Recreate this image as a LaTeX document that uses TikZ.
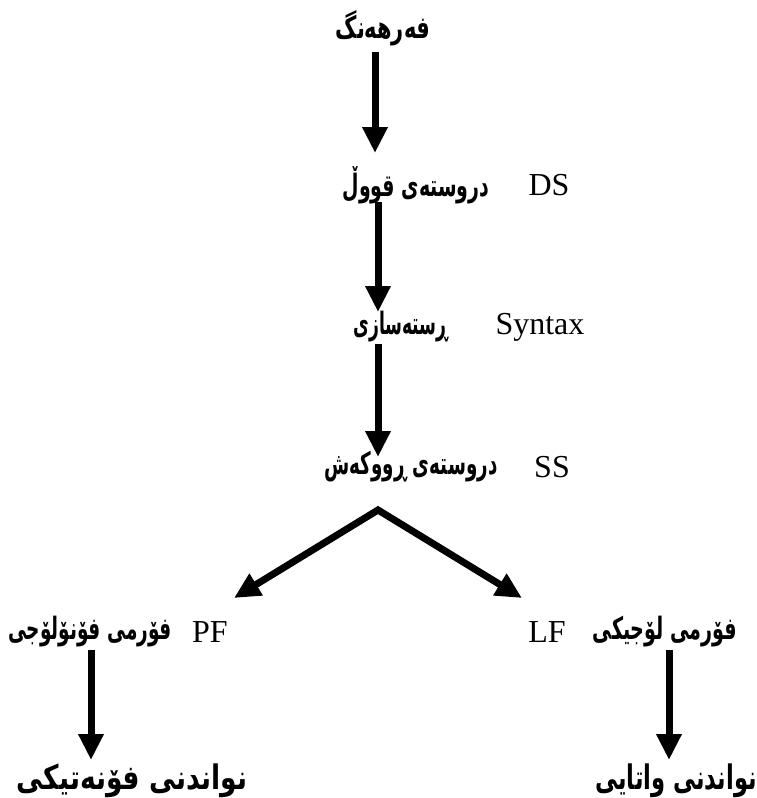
\documentclass[tikz,border=0pt]{standalone}
\usepackage{fontspec}
\usepackage{graphicx}
\setmainfont{Liberation Serif}
\newfontfamily\kurd[Script=Arabic]{DejaVu Sans}
\TeXXeTstate=1
\usetikzlibrary{arrows.meta}
% bold Kurdish text, stretched horizontally by #1 and vertically by #2
\newcommand{\ku}[3]{\scalebox{#1}[#2]{\kurd\bfseries #3}}
\begin{document}
\begin{tikzpicture}[x=1pt,y=-1pt,
  kt/.style={inner sep=0pt,font=\fontsize{22}{26}\selectfont},
  kb/.style={inner sep=0pt,font=\fontsize{26}{30}\selectfont},
  lt/.style={inner sep=0pt,font=\fontsize{32}{36}\selectfont},
  arr/.style={line width=7pt,-{Triangle[length=26pt,width=24pt]}},
  fork/.style={line width=7pt,miter limit=10,{Triangle[length=26pt,width=24pt]}-{Triangle[length=26pt,width=24pt]}}]
\useasboundingbox (0,0) rectangle (756,798);

% stages of the derivation
\node[kt] (lex) at (383,28) {\ku{0.95}{1.4}{\beginR فەرهەنگ\endR}};
\node[kt] (ds) at (416,185) {\ku{0.86}{1.4}{\beginR دروستەی قووڵ\endR}};
\node[lt] (dsl) at (549,185) {DS};
\node[kt] (syn) at (401,327) {\ku{0.78}{1.4}{\beginR ڕستەسازی\endR}};
\node[lt] (synl) at (540,327) {Syntax};
\node[kt] (ss) at (411,467) {\ku{0.83}{1.4}{\beginR دروستەی ڕووکەش\endR}};
\node[lt] (ssl) at (552,467) {SS};
\node[kt] (pf) at (90,632) {\ku{0.84}{1.4}{\beginR فۆرمی فۆنۆلۆجی\endR}};
\node[lt] (pfl) at (210,632) {PF};
\node[lt] (lfl) at (547,632) {LF};
\node[kt] (lf) at (665,632) {\ku{0.87}{1.4}{\beginR فۆرمی لۆجیکی\endR}};
\node[kb] (phon) at (132,781) {\ku{1.02}{1.3}{\beginR نواندنی فۆنەتیکی\endR}};
\node[kb] (sem) at (676,781) {\ku{0.87}{1.3}{\beginR نواندنی واتایی\endR}};

% arrow end points
\coordinate (a1s) at (375,52);  \coordinate (a1e) at (375,153);
\coordinate (a2s) at (378,202); \coordinate (a2e) at (378,312);
\coordinate (a3s) at (378,344); \coordinate (a3e) at (378,457);
\coordinate (apex) at (378,510);
\coordinate (pftip) at (234,598); \coordinate (lftip) at (522,598);
\coordinate (a4s) at (91,650);  \coordinate (a4e) at (91,760);
\coordinate (a5s) at (669,650); \coordinate (a5e) at (669,760);

\draw[arr] (a1s) -- (a1e);
\draw[arr] (a2s) -- (a2e);
\draw[arr] (a3s) -- (a3e);
\draw[fork] (pftip) -- (apex) -- (lftip);
\draw[arr] (a4s) -- (a4e);
\draw[arr] (a5s) -- (a5e);
\end{tikzpicture}
\end{document}
